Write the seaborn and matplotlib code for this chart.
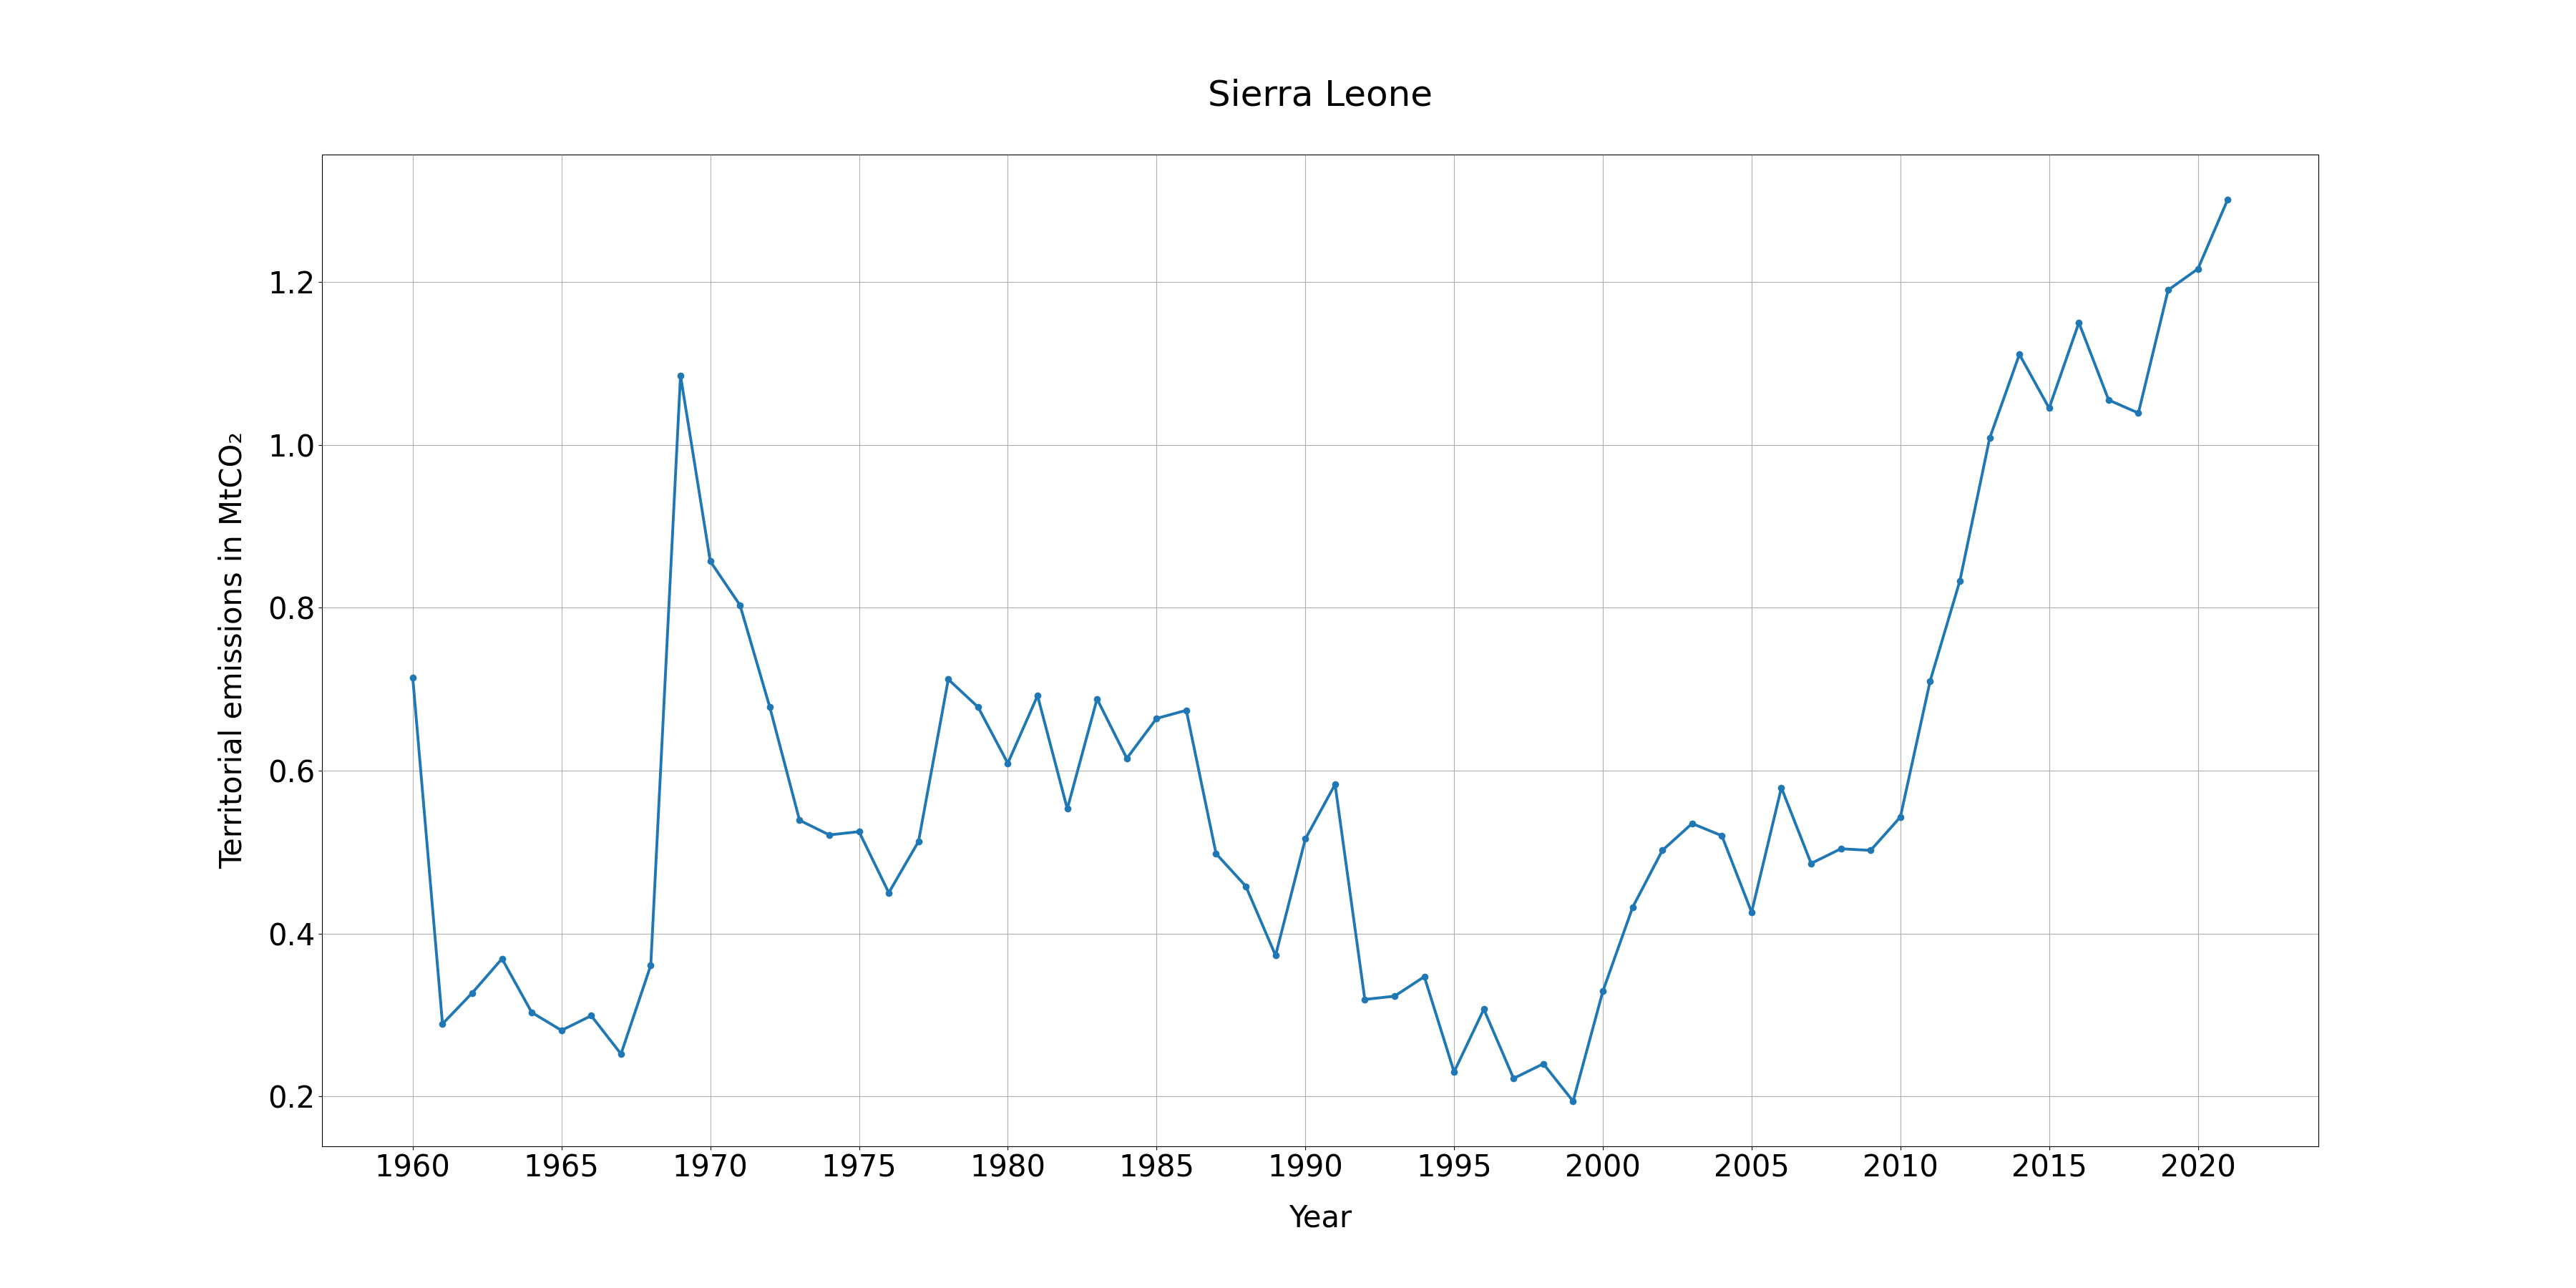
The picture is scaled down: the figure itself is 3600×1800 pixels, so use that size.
import matplotlib
matplotlib.use("Agg")
import matplotlib.pyplot as plt
from matplotlib.ticker import MultipleLocator
import seaborn as sns
import pandas as pd

years = list(range(1960, 2022))
emissions = [
    0.714, 0.289, 0.327, 0.369, 0.303, 0.281, 0.299, 0.252, 0.361, 1.085,
    0.857, 0.803, 0.678, 0.539, 0.521, 0.525, 0.450, 0.513, 0.712, 0.678,
    0.609, 0.692, 0.553, 0.688, 0.615, 0.664, 0.674, 0.498, 0.458, 0.373,
    0.516, 0.583, 0.319, 0.323, 0.347, 0.230, 0.307, 0.222, 0.240, 0.194,
    0.329, 0.432, 0.502, 0.535, 0.520, 0.426, 0.579, 0.486, 0.504, 0.502,
    0.543, 0.710, 0.833, 1.008, 1.111, 1.045, 1.150, 1.055, 1.039, 1.190,
    1.216, 1.301,
]
title = "Sierra Leone"
xlabel = "Year"
ylabel = "Territorial emissions in MtCO\u2082"

df = pd.DataFrame({"Year": years, "Emissions": emissions})

plt.rcParams["font.family"] = ["DejaVu Sans"]
plt.rcParams["font.size"] = 30

fig, ax = plt.subplots(figsize=(36, 18), dpi=100)
sns.lineplot(data=df, x="Year", y="Emissions", ax=ax, color="#1f77b4",
             linewidth=2.8, marker="o", markersize=7, markeredgewidth=0)
ax.xaxis.set_major_locator(MultipleLocator(5))
ax.grid(True, color="#b0b0b0", linewidth=0.8)
ax.set_axisbelow(True)
ax.set_title(title, fontsize=36, pad=49)
ax.set_xlabel(xlabel, fontsize=30, labelpad=20)
ax.set_ylabel(ylabel, fontsize=30, labelpad=20)
ax.tick_params(labelsize=30)
for s in ax.spines.values():
    s.set_color("black")
    s.set_linewidth(0.8)

fig.savefig("out.png", dpi=100)
